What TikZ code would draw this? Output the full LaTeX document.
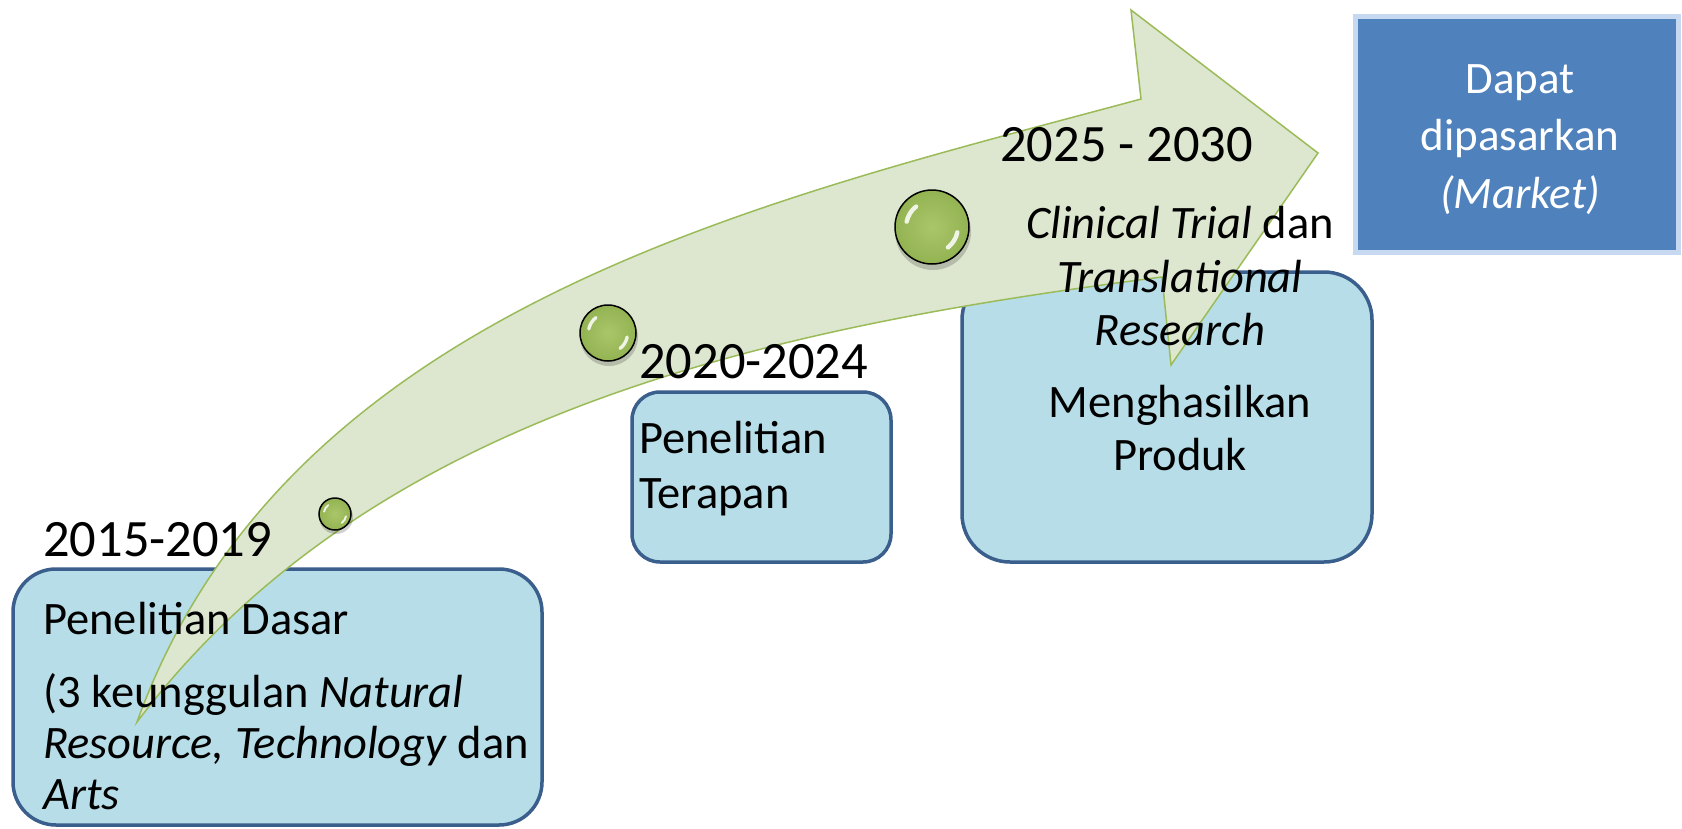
\documentclass[tikz,border=0pt]{standalone}
\usepackage{fontspec}
\setmainfont{Carlito}
\definecolor{boxfill}{HTML}{B7DEE8}
\definecolor{boxline}{HTML}{3A5F8C}
\definecolor{arrowfill}{HTML}{DDE7D0}
\definecolor{arrowline}{HTML}{9BBB59}
\definecolor{ballin}{HTML}{AAC66A}
\definecolor{ballout}{HTML}{93B352}
\definecolor{mkfill}{HTML}{4F81BD}
\definecolor{mkline}{HTML}{C6D9F1}
\newcommand\glossyball[2]{%
  \begin{scope}[shift={(#1.center)}, x=1pt, y=1pt]
    \draw[white, opacity=0.85, line width=#2*0.12pt, line cap=round]
      (168:{0.70*#2}) arc[start angle=168, end angle=128, radius={0.70*#2}];
    \draw[white, opacity=0.85, line width=#2*0.12pt, line cap=round]
      (-12:{0.70*#2}) arc[start angle=-12, end angle=-52, radius={0.70*#2}];
  \end{scope}}
\begin{document}
\begin{tikzpicture}[x=1pt, y=-1pt,
  stagebox/.style={draw=boxline, line width=3.5pt, fill=boxfill, inner sep=0pt},
  mkbox/.style={draw=mkline, line width=5pt, fill=mkfill, inner sep=0pt},
  arrowst/.style={fill=arrowfill, draw=arrowline, line width=1.5pt, line join=miter},
  ball/.style={circle, draw=black, line width=1.5pt, inner color=ballin, outer color=ballout, inner sep=0pt},
  shadowst/.style={circle, fill=black, opacity=0.18, inner sep=0pt},
  txt/.style={inner sep=0pt, anchor=base west, font=\fontsize{46.5}{53}\selectfont},
  ctxt/.style={inner sep=0pt, anchor=base, font=\fontsize{46.5}{53}\selectfont},
  yr/.style={inner sep=0pt, anchor=base west, font=\fontsize{52.5}{60}\selectfont},
  mktxt/.style={inner sep=0pt, anchor=base, text=white, font=\fontsize{45}{56}\selectfont}]
\useasboundingbox (0,0) rectangle (1682,828);
\fill[white] (0,0) rectangle (1682,828);

% boxes
\node[stagebox, rounded corners=43pt, minimum width=529pt, minimum height=256pt] (b1) at (277.5,697) {};
\node[stagebox, rounded corners=28pt, minimum width=259pt, minimum height=170pt] (b2) at (761.5,477) {};
\node[stagebox, rounded corners=48pt, minimum width=410pt, minimum height=290pt] (b3) at (1167,417) {};
\node[mkbox, minimum width=322.5pt, minimum height=236pt] (mk) at (1516.75,134.5) {};

% curved arrow
\coordinate (tail) at (137,722);
\coordinate (neckU) at (1141,99);
\coordinate (barbU) at (1131,10);
\coordinate (tip) at (1318,153);
\coordinate (barbL) at (1171,365);
\coordinate (neckL) at (1162,277);
\filldraw[arrowst]
  (tail) .. controls (287,306) and (767,200) .. (neckU)
  -- (barbU) -- (tip) -- (barbL) -- (neckL)
  .. controls (792,325) and (377,404) .. (tail) -- cycle;

% balls
\node[shadowst, minimum size=34pt] (s1) at (336,517) {};
\node[ball, minimum size=32pt] (c1) at (335,514) {};
\glossyball{c1}{16}
\node[shadowst, minimum size=58pt] (s2) at (609,337) {};
\node[ball, minimum size=56pt] (c2) at (608,333) {};
\glossyball{c2}{28}
\node[shadowst, minimum size=76pt] (s3) at (933,232) {};
\node[ball, minimum size=74pt] (c3) at (932,227) {};
\glossyball{c3}{37}

% year labels
\node[yr] (y1) at (43,556) {2015-2019};
\node[yr] (y2) at (639,378) {2020-2024};
\node[yr] (y3) at (1000,161) {2025 - 2030};

% box 1 text
\node[txt] (t1a) at (43,634) {Penelitian Dasar};
\node[txt] (t1b) at (43,707) {(3 keunggulan \textit{Natural}};
\node[txt] (t1c) at (43,758) {\textit{Resource, Technology} dan};
\node[txt] (t1d) at (43,809) {\textit{Arts}};

% box 2 text
\node[txt] (t2a) at (639,453) {Penelitian};
\node[txt] (t2b) at (639,508) {Terapan};

% box 3 text
\node[ctxt] (t3a) at (1180,238) {\textit{Clinical Trial} dan};
\node[ctxt] (t3b) at (1180,292) {\textit{Translational}};
\node[ctxt] (t3c) at (1180,345) {\textit{Research}};
\node[ctxt] (t3d) at (1180,417) {Menghasilkan};
\node[ctxt] (t3e) at (1180,470) {Produk};

% market text
\node[mktxt] (m1) at (1520,93) {Dapat};
\node[mktxt] (m2) at (1520,150) {dipasarkan};
\node[mktxt] (m3) at (1520,208) {\textit{(Market)}};
\end{tikzpicture}
\end{document}
